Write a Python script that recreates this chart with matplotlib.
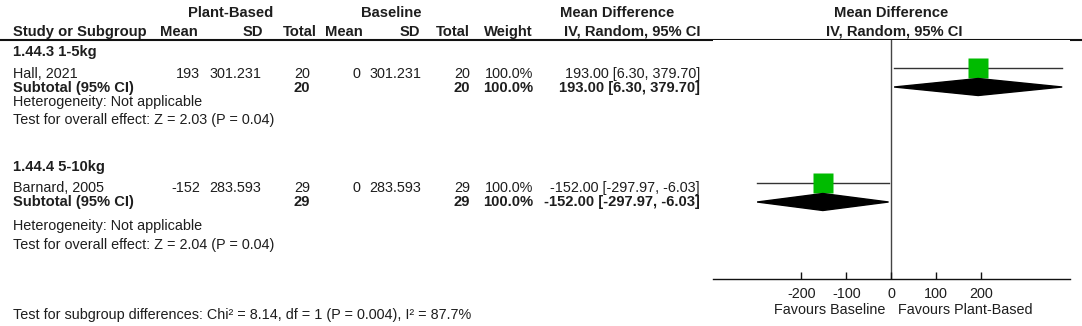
import matplotlib.pyplot as plt
from matplotlib.patches import Polygon

# study-level data
subgroups = ["1.44.3 1-5kg", "1.44.4 5-10kg"]
studies = ["Hall, 2021", "Barnard, 2005"]
pb_mean = [193, -152]
pb_sd = ["301.231", "283.593"]
pb_n = [20, 29]
bl_mean = [0, 0]
bl_sd = ["301.231", "283.593"]
bl_n = [20, 29]
weight = [100.0, 100.0]
md = [193.00, -152.00]
ci_lo = [6.30, -297.97]
ci_hi = [379.70, -6.03]

# subgroup summaries
sub_n_pb = [20, 29]
sub_n_bl = [20, 29]
sub_weight = [100.0, 100.0]
sub_md = [193.00, -152.00]
sub_lo = [6.30, -297.97]
sub_hi = [379.70, -6.03]
overall_z = [2.03, 2.04]
overall_p = [0.04, 0.04]

chi2, chi_df, chi_p, i2 = 8.14, 1, 0.004, 87.7
xticks = [-200, -100, 0, 100, 200]

plt.rcParams['font.family'] = ['Liberation Sans', 'DejaVu Sans']
plt.rcParams['axes.unicode_minus'] = False
FS = 10.4
FSB = 10.6
TXT = '#1e1e1e'

W, H = 1082, 326
fig = plt.figure(figsize=(W / 100, H / 100), dpi=100)
tab = fig.add_axes([0, 0, 1, 1])
tab.set_xlim(0, W)
tab.set_ylim(H, 0)
tab.axis('off')


def put(x, y, s, ha='right', bold=False):
    tab.text(x, y, s, ha=ha, va='baseline', fontsize=FSB if bold else FS,
             color=TXT, fontweight='bold' if bold else 'normal')


# header
put(231, 17, "Plant-Based", ha='center', bold=True)
put(391, 17, "Baseline", ha='center', bold=True)
put(617, 17, "Mean Difference", ha='center', bold=True)
put(891, 17, "Mean Difference", ha='center', bold=True)
put(13, 36, "Study or Subgroup", ha='left', bold=True)
for x, s in [(198, "Mean"), (263, "SD"), (317, "Total"), (363, "Mean"),
             (420, "SD"), (470, "Total"), (533, "Weight"),
             (700, "IV, Random, 95% CI")]:
    put(x, 36, s, bold=True)
put(894, 36, "IV, Random, 95% CI", ha='center', bold=True)
tab.plot([0, W], [40, 40], color='#111111', lw=1.5)

# row baselines per subgroup block: title, study, subtotal, heterogeneity, test
blocks = [(56, 78, 92, 106, 124), (171, 192, 206, 230, 249)]
for i, (yt, ys, ysub, yh, yz) in enumerate(blocks):
    put(13, yt, subgroups[i], ha='left', bold=True)
    put(13, ys, studies[i], ha='left')
    put(200, ys, f"{pb_mean[i]}")
    put(261, ys, pb_sd[i])
    put(310, ys, f"{pb_n[i]}")
    put(360, ys, f"{bl_mean[i]}")
    put(421, ys, bl_sd[i])
    put(470, ys, f"{bl_n[i]}")
    put(533, ys, f"{weight[i]:.1f}%")
    put(700, ys, f"{md[i]:.2f} [{ci_lo[i]:.2f}, {ci_hi[i]:.2f}]")
    put(13, ysub, "Subtotal (95% CI)", ha='left', bold=True)
    put(310, ysub, f"{sub_n_pb[i]}", bold=True)
    put(470, ysub, f"{sub_n_bl[i]}", bold=True)
    put(533, ysub, f"{sub_weight[i]:.1f}%", bold=True)
    put(700, ysub, f"{sub_md[i]:.2f} [{sub_lo[i]:.2f}, {sub_hi[i]:.2f}]", bold=True)
    put(13, yh, "Heterogeneity: Not applicable", ha='left')
    put(13, yz, f"Test for overall effect: Z = {overall_z[i]:.2f} (P = {overall_p[i]:.2f})",
        ha='left')

put(13, 319, f"Test for subgroup differences: Chi\u00b2 = {chi2:.2f}, df = {chi_df} "
             f"(P = {chi_p}), I\u00b2 = {i2:.1f}%", ha='left')

# forest panel
fa = fig.add_axes([713 / W, (H - 279) / H, (1070 - 713) / W, (279 - 40) / H])
fa.set_xlim(-396, 397)
fa.set_ylim(279, 40)
for s in ['top', 'left', 'right']:
    fa.spines[s].set_visible(False)
fa.spines['bottom'].set_linewidth(1)
fa.spines['bottom'].set_color('#111111')
fa.set_yticks([])
fa.set_xticks(xticks)
fa.tick_params(axis='x', direction='in', length=5, width=1, pad=6,
               labelsize=FS, labelcolor=TXT, color='#111111')
fa.axvline(0, color='#444444', lw=1, zorder=1)

study_y = [68, 183]
diamond_y = [87, 202]
for i in range(2):
    fa.plot([ci_lo[i], ci_hi[i]], [study_y[i]] * 2, color='#333333', lw=1, zorder=2)
    fa.plot(md[i], study_y[i], marker='s', ms=15, color='#00bb00', mec='none', zorder=3)
    yd = diamond_y[i]
    fa.add_patch(Polygon([(sub_lo[i], yd), (sub_md[i], yd - 8.5),
                          (sub_hi[i], yd), (sub_md[i], yd + 8.5)],
                         closed=True, color='black', zorder=4))

put(885, 314, "Favours Baseline")
put(898, 314, "Favours Plant-Based", ha='left')

fig.savefig('out.png', dpi=100)
